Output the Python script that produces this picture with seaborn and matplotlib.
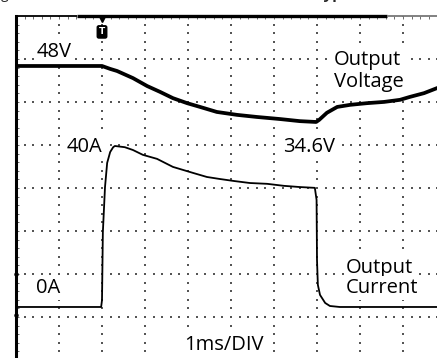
import numpy as np
import pandas as pd
import matplotlib
matplotlib.use("Agg")
import matplotlib.pyplot as plt
import seaborn as sns

# ---- trace data (time in ms, 1 ms per division) ----
t_volt = [0.00, 2.00, 2.19, 2.35, 2.72, 3.05, 3.35, 3.65, 3.98, 4.28, 4.67,
          5.14, 5.60, 6.14, 6.60, 6.98, 7.05, 7.23, 7.47, 7.77, 8.16, 8.56,
          8.93, 9.16, 9.49, 9.79, 10.00]
volt = [48.0, 48.0, 47.3, 46.8, 45.1, 43.2, 41.8, 40.3, 39.1, 38.2, 37.0,
        36.3, 35.8, 35.3, 34.8, 34.6, 35.1, 36.8, 38.2, 38.7, 39.1, 39.4,
        39.9, 40.6, 41.5, 42.7, 43.5]

t_curr = [0.00, 1.98, 2.00, 2.02, 2.07, 2.12, 2.19, 2.26, 2.30, 2.53, 2.72,
          2.95, 3.28, 3.65, 4.12, 4.44, 4.74, 5.07, 5.44, 5.84, 6.23, 6.60,
          6.95, 6.99, 7.00, 7.02, 7.07, 7.19, 7.30, 7.53, 10.00]
curr = [0.0, 0.0, 1.7, 18.6, 29.8, 35.8, 38.5, 39.7, 40.0, 39.7, 39.0,
        37.8, 36.8, 34.8, 33.3, 32.3, 31.8, 31.3, 30.8, 30.6, 30.1, 29.8,
        29.6, 26.6, 11.7, 5.5, 3.0, 1.0, 0.25, 0.0, 0.0]

# ---- screen scaling (volts / amps per vertical division) ----
N_XDIV, N_YDIV = 10, 8
V_PER_DIV, V_TOP = 10.29, 59.96
I_PER_DIV, I_BOTTOM = 10.683, -13.17

sns.set_style("white")
plt.rcParams["font.family"] = ["Open Sans", "DejaVu Sans"]

W, H = 437, 358
fig = plt.figure(figsize=(W / 100, H / 100), dpi=100)
# graticule: 43 px per division, top-left corner at (16, 16) px
ax = fig.add_axes([16 / W, (H - 360) / H, 430 / W, 344 / H])
ax.set_xlim(0, N_XDIV)
ax.set_ylim(0, N_YDIV)
ax.patch.set_alpha(0)

# dotted graticule
dot = dict(s=0.6, marker="s", color="#555555", linewidths=0, zorder=1)
minor = np.arange(0, N_XDIV + 1e-9, 0.2)
ys = np.arange(0, N_YDIV + 1e-9, 0.2)
for gx in range(1, N_XDIV + 1):
    ax.scatter(np.full_like(ys, gx), ys, **dot)
for gy in range(1, N_YDIV):
    ax.scatter(minor, np.full_like(minor, gy), **dot)

# frame: heavy left edge and top edge with inward minor ticks
for side in ("right", "bottom", "top"):
    ax.spines[side].set_visible(False)
ax.spines["left"].set_linewidth(2.2)
ax.spines["left"].set_color("black")
ax.set_xticks(np.arange(0, N_XDIV + 1e-9, 0.2))
ax.set_yticks(np.arange(0, N_YDIV + 1e-9, 0.2))
ax.tick_params(axis="x", which="both", bottom=False, top=True, direction="in",
               length=2.4, width=0.6, color="#555555", labelbottom=False,
               labeltop=False)
ax.tick_params(axis="y", which="both", left=True, right=False, direction="in",
               length=2.0, width=0.6, color="#555555", labelleft=False)
ax.plot([0, 1.42], [N_YDIV, N_YDIV], color="black", lw=1.3, clip_on=False,
        solid_capstyle="butt", zorder=5)
ax.plot([1.42, 8.63], [N_YDIV, N_YDIV], color="black", lw=2.4, clip_on=False,
        solid_capstyle="butt", zorder=5)
ax.plot([8.63, N_XDIV], [N_YDIV, N_YDIV], color="#777777", lw=1.3,
        clip_on=False, solid_capstyle="butt", zorder=5)

# channel ground markers on the left edge
ax.plot([0, 0], [2.0, 1.05], ls="none", marker="o", ms=2.2, color="black",
        clip_on=False, zorder=6)

# trigger marker
ax.plot([2.0], [7.93], marker="v", ms=5, color="black", clip_on=False,
        zorder=6)
ax.text(2.0, 7.63, "T", ha="center", va="center", color="white",
        fontsize=6.5, fontweight="bold", family=["DejaVu Sans"],
        bbox=dict(boxstyle="round,pad=0.18", fc="black", ec="black"),
        zorder=6)

# traces on their own vertical scales
axV = ax.twinx()
axV.set_ylim(V_TOP - N_YDIV * V_PER_DIV, V_TOP)
axI = ax.twinx()
axI.set_ylim(I_BOTTOM, I_BOTTOM + N_YDIV * I_PER_DIV)
for a in (axV, axI):
    a.set_axis_off()

df_v = pd.DataFrame({"time": t_volt, "voltage": volt})
df_i = pd.DataFrame({"time": t_curr, "current": curr})
sns.lineplot(data=df_v, x="time", y="voltage", ax=axV, color="black",
             lw=2.7, estimator=None, sort=False)
sns.lineplot(data=df_i, x="time", y="current", ax=axI, color="black",
             lw=1.3, estimator=None, sort=False)
axV.set_xlim(0, N_XDIV)
axI.set_xlim(0, N_XDIV)

# annotations
fs = 14.5
labels = [
    (0.47, 7.05, "48V"),
    (7.40, 6.86, "Output"),
    (7.40, 6.35, "Voltage"),
    (1.17, 4.84, "40A"),
    (6.21, 4.84, "34.6V"),
    (0.47, 1.56, "0A"),
    (7.68, 2.02, "Output"),
    (7.68, 1.56, "Current"),
    (3.91, 0.23, "1ms/DIV"),
]
for x, y, s in labels:
    ax.text(x, y, s, ha="left", va="baseline", fontsize=fs, color="black",
            zorder=4,
            bbox=dict(boxstyle="square,pad=0.12", fc="white", ec="none"))

# caption line above the graticule
fig.text(1 / W, 1 + 1.5 / H, "g", ha="left", va="baseline", fontsize=10)
fig.text(316 / W, 1 + 1.5 / H, "Typical", ha="left", va="baseline",
         fontsize=11, fontweight="bold")

fig.savefig("out.png", dpi=100)
